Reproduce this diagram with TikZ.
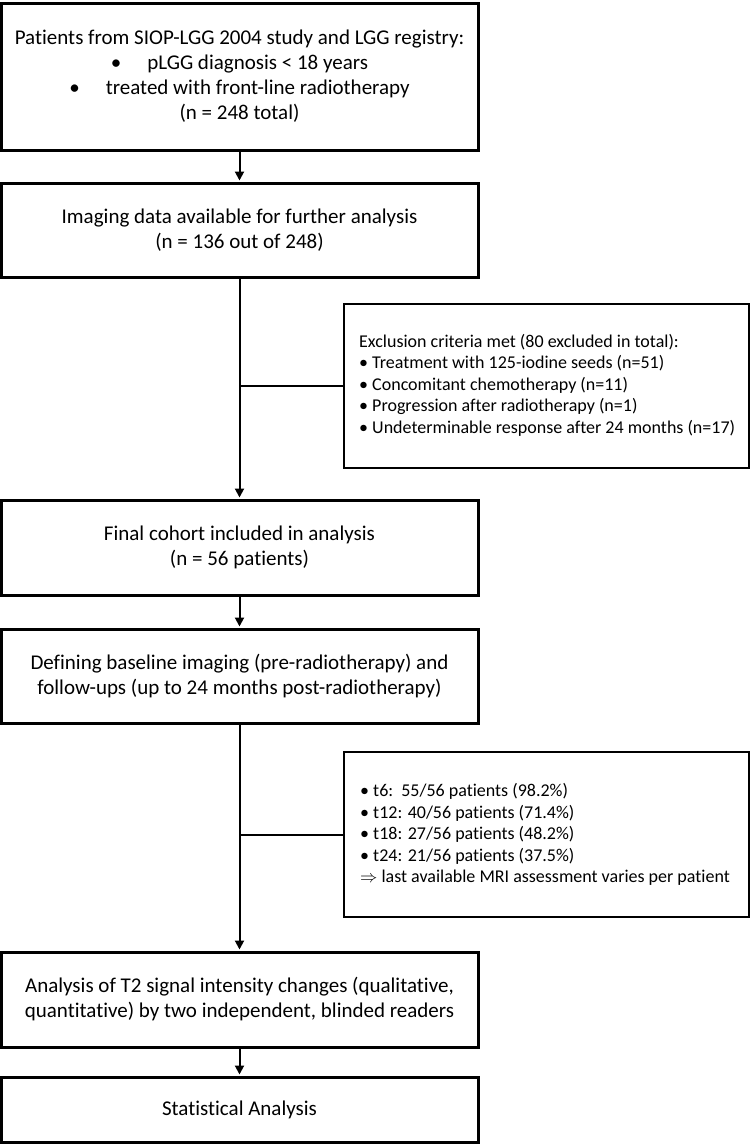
\documentclass[tikz,border=0pt]{standalone}
\usepackage{fontspec}
\setmainfont{Carlito}[Ligatures=NoCommon]
\usetikzlibrary{arrows.meta}
\tikzset{
  mainbox/.style={draw=black, line width=3pt, minimum width=477pt, inner sep=0pt, align=center, font=\fontsize{21}{25}\selectfont},
  sidebox/.style={draw=black, line width=1.5pt, minimum width=405pt, minimum height=164pt, inner sep=0pt},
  sidetext/.style={anchor=west, align=left, inner sep=0pt, font=\fontsize{18}{21.5}\selectfont},
  conn/.style={line width=2pt},
  arr/.style={line width=2pt, -{Triangle[length=9pt,width=9pt]}, shorten >=1pt}
}
\begin{document}
\begin{tikzpicture}[x=1pt,y=-1pt]
\useasboundingbox (0,0) rectangle (751,1144);
\node[mainbox, minimum height=147pt] (b1) at (239.5,76.5) {Patients from SIOP-LGG 2004 study and LGG registry:\\
\textbullet\hspace{26pt}pLGG diagnosis < 18 years\\
\textbullet\hspace{26pt}treated with front-line radiotherapy\\
(n = 248 total)};
\node[mainbox, minimum height=94pt] (b2) at (239.5,230) {Imaging data available for further analysis\\(n = 136 out of 248)};
\node[mainbox, minimum height=95pt] (b3) at (239.5,547.5) {Final cohort included in analysis\\(n = 56 patients)};
\node[mainbox, minimum height=94pt] (b4) at (239.5,676) {Defining baseline imaging (pre-radiotherapy) and\\follow-ups (up to 24 months post-radiotherapy)};
\node[mainbox, minimum height=95pt] (b5) at (239.5,999.5) {Analysis of T2 signal intensity changes (qualitative,\\quantitative) by two independent, blinded readers};
\node[mainbox, minimum height=65pt] (b6) at (239.5,1109.5) {Statistical Analysis};

\node[sidebox] (ex) at (546.5,386) {};
\node[sidetext] (ext) at (359,385) {Exclusion criteria met (80 excluded in total):\\
\textbullet\ Treatment with 125-iodine seeds (n=51)\\
\textbullet\ Concomitant chemotherapy (n=11)\\
\textbullet\ Progression after radiotherapy (n=1)\\
\textbullet\ Undeterminable response after 24 months (n=17)};

\node[sidebox, minimum height=165pt] (fu) at (546.5,834.5) {};
\node[sidetext] (fut) at (360,834.5) {\textbullet\ t6:\ \ 55/56 patients (98.2\%)\\
\textbullet\ t12: 40/56 patients (71.4\%)\\
\textbullet\ t18: 27/56 patients (48.2\%)\\
\textbullet\ t24: 21/56 patients (37.5\%)\\
$\Rightarrow$ last available MRI assessment varies per patient};

\coordinate (j1) at (b2.south |- ex.west);
\coordinate (j2) at (b4.south |- fu.west);

\draw[arr] (b1.south) -- (b2.north);
\draw[arr] (b2.south) -- (b3.north);
\draw[conn] (j1) -- (ex.west);
\draw[arr] (b3.south) -- (b4.north);
\draw[arr] (b4.south) -- (b5.north);
\draw[conn] (j2) -- (fu.west);
\draw[arr] (b5.south) -- (b6.north);
\end{tikzpicture}
\end{document}
